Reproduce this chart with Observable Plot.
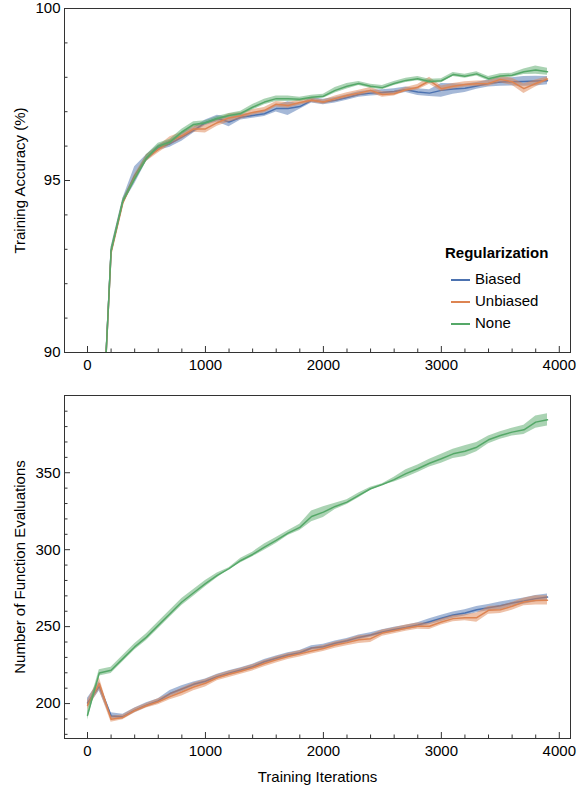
<!DOCTYPE html>
<html>
<head>
<meta charset="utf-8">
<script src="https://cdn.jsdelivr.net/npm/d3@7"></script>
<script src="https://cdn.jsdelivr.net/npm/@observablehq/plot@0.6"></script>
<style>
  html, body { margin: 0; padding: 0; background: white; }
  #wrap { position: relative; width: 582px; height: 785px; font-family: "Liberation Sans", Arial, sans-serif; color: black; }
  #wrap svg { display: block; }
  #legend { position: absolute; left: 445px; top: 242px; font-size: 15px; }
  #legend .title { font-weight: bold; line-height: 22px; margin-bottom: 4px; }
  #legend .row { line-height: 22px; padding-left: 6px; white-space: nowrap; }
  #legend .sw { display: inline-block; width: 19px; height: 1.6px; vertical-align: middle; margin-right: 5px; }
</style>
</head>
<body>
<div id="wrap">
  <div id="top"></div>
  <div id="bottom"></div>
  <div id="legend"></div>
</div>
<script>
// ---------------- data ----------------
const iterations = [0,100,200,300,400,500,600,700,800,900,1000,1100,1200,1300,1400,1500,1600,1700,1800,1900,
  2000,2100,2200,2300,2400,2500,2600,2700,2800,2900,3000,3100,3200,3300,3400,3500,3600,3700,3800,3900];

const seriesNames = ["Biased", "Unbiased", "None"];
const seriesColors = ["#4C72B0", "#DD8452", "#55A868"];

// Training accuracy (%) means
const accBiased = [11,85.9,92.95,94.4,95.15,95.65,95.95,96.07,96.26,96.46,96.68,96.8,96.7,96.84,96.89,96.94,97.09,97.09,97.15,97.33,
  97.28,97.33,97.41,97.5,97.54,97.56,97.59,97.64,97.57,97.54,97.62,97.66,97.68,97.75,97.82,97.86,97.87,97.88,97.89,97.9];
const accUnbiased = [11,85.9,92.9,94.35,95.1,95.65,95.9,96.15,96.3,96.5,96.5,96.68,96.82,96.88,96.98,97.04,97.22,97.18,97.27,97.33,
  97.28,97.38,97.47,97.54,97.62,97.5,97.52,97.64,97.71,97.9,97.67,97.74,97.79,97.81,97.82,97.94,97.87,97.67,97.82,97.95];
const accNone = [11,85.9,92.95,94.4,95.05,95.65,96.0,96.12,96.41,96.63,96.68,96.8,96.89,96.95,97.13,97.28,97.38,97.38,97.36,97.42,
  97.45,97.62,97.74,97.82,97.74,97.7,97.82,97.91,97.96,97.88,97.9,98.08,98.03,98.1,97.96,98.04,98.06,98.16,98.21,98.16];
// half-width of the shaded band
const accBiasedErr = [0.1,0.1,0.1,0.08,0.25,0.1,0.08,0.1,0.12,0.08,0.08,0.1,0.14,0.08,0.08,0.08,0.1,0.2,0.08,0.08,
  0.08,0.08,0.08,0.08,0.08,0.08,0.08,0.08,0.1,0.1,0.2,0.15,0.12,0.1,0.1,0.12,0.12,0.14,0.14,0.12];
const accUnbiasedErr = [0.1,0.1,0.1,0.08,0.08,0.1,0.1,0.12,0.1,0.1,0.12,0.1,0.12,0.1,0.08,0.08,0.08,0.08,0.08,0.06,
  0.06,0.08,0.08,0.08,0.08,0.08,0.06,0.06,0.08,0.1,0.08,0.08,0.08,0.08,0.08,0.1,0.1,0.14,0.1,0.06];
const accNoneErr = [0.1,0.1,0.1,0.08,0.08,0.1,0.08,0.08,0.08,0.08,0.06,0.06,0.06,0.06,0.08,0.08,0.08,0.08,0.06,0.06,
  0.06,0.08,0.08,0.06,0.06,0.06,0.06,0.06,0.06,0.06,0.06,0.06,0.06,0.06,0.06,0.06,0.06,0.08,0.12,0.1];

// Number of function evaluations means
const nfeBiased = [200.4,211.2,192,191.5,195.6,199,201.7,206.5,209.5,212.5,214.5,217.5,219.8,221.8,224,227.2,229.4,231.6,233,236.1,
  237,239.2,240.8,243,244.6,246.5,248.1,249.4,251,253.2,255.4,257.5,258.9,261,262.3,263.5,265.3,266.6,268.2,269.2];
const nfeUnbiased = [198.9,213,189.8,191,195.4,198.6,201.2,204.5,207.5,210.8,213.2,216.8,219,221,223.2,226,228.4,230.6,232.3,234.2,
  235.8,238,239.6,241.5,242.2,245.8,247.3,249,250.3,250.2,253,255.2,255.8,255.8,260.6,261,263.2,266,267,267.1];
const nfeNone = [192.4,219.9,221.6,229.2,236.8,243.2,250.8,258.4,266,272,277.9,283.3,287.7,293,296.9,301.7,306,310.8,314.5,321.6,
  324.4,328.1,330.9,335.3,339.6,342.4,345.5,349.4,352.6,356.2,359.1,362.3,364,366.6,371.4,374.2,376.4,377.9,382.9,384.4];
const nfeBiasedErr = [3,3,2,1.5,1.5,1.5,1.5,2,2,1.5,1.5,1.5,1.5,1.5,1.5,1.5,1.5,1.5,1.5,1.5,
  1.5,1.5,1.5,1.5,1.5,1.5,1.5,1.5,1.5,2,2,2,2,2,2,2.5,2,2,2,2];
const nfeUnbiasedErr = [3,4,2,1.5,1.5,1.5,2,2,2.5,2.5,2.5,2,2,2,2,2,2,2,2,2,
  2,2,2,2.5,2.5,2,2,2,2,2,2,2,2,3,2.5,2.5,2.5,2.5,3,3];
const nfeNoneErr = [3,2,2,2,2,2.2,2.2,2.2,2.2,2.2,2,1.5,0.5,1.5,1.5,2,2,1.5,2,3.5,
  3.5,2,1.5,1.5,1,0.5,1.5,2.5,2.5,2.5,3,3,3.5,3,2.5,2.5,2.5,3,4,4];

// axis ticks
const xMajor = [0,1000,2000,3000,4000];
const xMinor = [200,400,600,800,1200,1400,1600,1800,2200,2400,2600,2800,3200,3400,3600,3800];
const accMajor = [90,95,100];
const accMinor = [91,92,93,94,96,97,98,99];
const nfeMajor = [200,250,300,350];
const nfeMinor = [180,190,210,220,230,240,260,270,280,290,310,320,330,340,360,370,380,390];

// ---------------- build rows per series ----------------
function seriesRows(mean, err) {
  return iterations.map((it, i) => ({iter: it, y: mean[i], lo: mean[i] - err[i], hi: mean[i] + err[i]}));
}
const accData = [seriesRows(accBiased, accBiasedErr), seriesRows(accUnbiased, accUnbiasedErr), seriesRows(accNone, accNoneErr)];
const nfeData = [seriesRows(nfeBiased, nfeBiasedErr), seriesRows(nfeUnbiased, nfeUnbiasedErr), seriesRows(nfeNone, nfeNoneErr)];

const FONT = "'Liberation Sans', Arial, sans-serif";
const style = {fontFamily: FONT, fontSize: "15px", color: "black", background: "white", overflow: "visible"};

function seriesMarks(dataList) {
  const marks = [];
  dataList.forEach((d, i) => {
    marks.push(Plot.areaY(d, {x: "iter", y1: "lo", y2: "hi", fill: seriesColors[i], fillOpacity: 0.5, clip: true}));
    marks.push(Plot.lineY(d, {x: "iter", y: "y", stroke: seriesColors[i], strokeWidth: 1.5, clip: true}));
  });
  return marks;
}

function panel({height, marginTop, marginBottom, yDomain, yMajor, yMinor, yLabel, data, xLabel, xLabelOffset}) {
  const txt = {fontSize: 15, fontFamily: FONT, fill: "black"};
  return Plot.plot({
    width: 582,
    height,
    marginLeft: 64,
    marginRight: 12,
    marginTop,
    marginBottom,
    style,
    x: {domain: [-195, 4095]},
    y: {domain: yDomain},
    marks: [
      ...seriesMarks(data),
      Plot.axisY(yMajor, {anchor: "left", tickSize: -6, tickPadding: 10, tickFormat: d => String(d),
        label: yLabel, labelAnchor: "center", labelArrow: "none", labelOffset: 50, stroke: "#333", ...txt}),
      Plot.axisY(yMinor, {anchor: "left", tickSize: -3.5, tickFormat: null, label: null, text: null, stroke: "#333"}),
      Plot.axisX(xMajor, {anchor: "bottom", tickSize: -6, tickPadding: 13, tickFormat: d => String(d),
        label: xLabel, labelAnchor: "center", labelArrow: "none", labelOffset: xLabelOffset, stroke: "#333", ...txt}),
      Plot.axisX(xMinor, {anchor: "bottom", tickSize: -3.5, tickFormat: null, label: null, text: null, stroke: "#333"}),
      Plot.frame({stroke: "#333", strokeWidth: 1})
    ]
  });
}

const topPlot = panel({
  height: 380, marginTop: 8, marginBottom: 28,
  yDomain: [90, 100], yMajor: accMajor, yMinor: accMinor,
  yLabel: "Training Accuracy (%)", data: accData, xLabel: null, xLabelOffset: 30
});
const bottomPlot = panel({
  height: 405, marginTop: 15, marginBottom: 47,
  yDomain: [177.3, 400.2], yMajor: nfeMajor, yMinor: nfeMinor,
  yLabel: "Number of Function Evaluations", data: nfeData, xLabel: "Training Iterations", xLabelOffset: 43
});
document.getElementById("top").appendChild(topPlot);
document.getElementById("bottom").appendChild(bottomPlot);

// legend
const legend = document.getElementById("legend");
const title = document.createElement("div");
title.className = "title";
title.textContent = "Regularization";
legend.appendChild(title);
seriesNames.forEach((name, i) => {
  const row = document.createElement("div");
  row.className = "row";
  const sw = document.createElement("span");
  sw.className = "sw";
  sw.style.background = seriesColors[i];
  row.appendChild(sw);
  row.appendChild(document.createTextNode(name));
  legend.appendChild(row);
});
</script>
</body>
</html>
